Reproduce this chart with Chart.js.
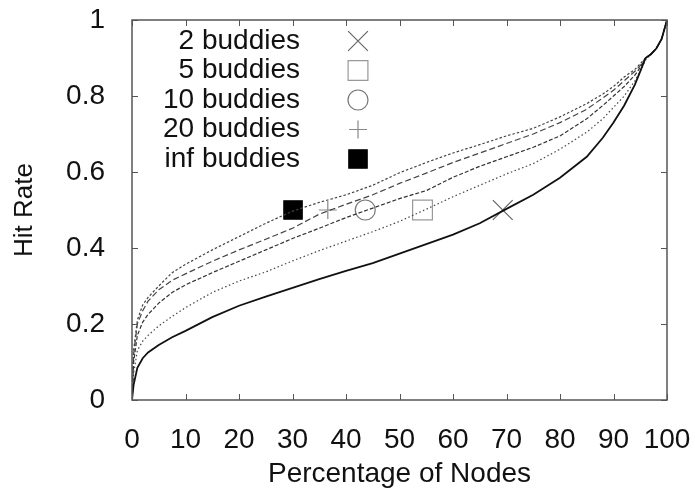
<!DOCTYPE html>
<html lang="en">
<head>
<meta charset="UTF-8" />
<title>Hit Rate vs Percentage of Nodes</title>
<script src="https://cdn.jsdelivr.net/npm/chart.js"></script>
<style>
  body { margin: 0; background: #fff; }
  canvas { display: block; }
</style>
</head>
<body>
<canvas id="grafHit" width="695" height="491"></canvas>
<script>
  // eixo x comum (percentual de nós)
  const xNos = [0, 0.3, 1, 2, 3, 5, 7.5, 10, 15, 20, 25, 30, 35, 40, 45, 50, 55, 60, 65, 70, 75, 80, 85, 88, 90, 92, 94, 95, 96, 97, 98, 99, 100];

  const hit2   = [0, 0.04, 0.085, 0.11, 0.125, 0.145, 0.165, 0.182, 0.218, 0.248, 0.272, 0.295, 0.318, 0.34, 0.36, 0.385, 0.41, 0.435, 0.465, 0.503, 0.54, 0.585, 0.64, 0.69, 0.73, 0.775, 0.83, 0.865, 0.9, 0.91, 0.925, 0.95, 1.0];
  const hit5   = [0, 0.07, 0.13, 0.155, 0.17, 0.195, 0.22, 0.243, 0.283, 0.313, 0.337, 0.366, 0.393, 0.418, 0.443, 0.47, 0.502, 0.535, 0.565, 0.595, 0.622, 0.66, 0.705, 0.74, 0.77, 0.8, 0.84, 0.865, 0.895, 0.91, 0.925, 0.95, 1.0];
  const hit10  = [0, 0.1, 0.17, 0.205, 0.225, 0.255, 0.283, 0.303, 0.335, 0.365, 0.395, 0.425, 0.452, 0.48, 0.505, 0.53, 0.551, 0.586, 0.615, 0.64, 0.665, 0.695, 0.74, 0.775, 0.8, 0.825, 0.855, 0.875, 0.9, 0.91, 0.925, 0.95, 1.0];
  const hit20  = [0, 0.12, 0.2, 0.235, 0.26, 0.29, 0.315, 0.332, 0.365, 0.395, 0.423, 0.452, 0.489, 0.515, 0.54, 0.57, 0.597, 0.625, 0.65, 0.675, 0.7, 0.73, 0.765, 0.795, 0.815, 0.84, 0.865, 0.88, 0.9, 0.91, 0.925, 0.95, 1.0];
  const hitInf = [0, 0.13, 0.21, 0.25, 0.27, 0.3, 0.335, 0.357, 0.395, 0.43, 0.465, 0.497, 0.52, 0.54, 0.565, 0.598, 0.625, 0.65, 0.672, 0.695, 0.715, 0.745, 0.78, 0.805, 0.825, 0.85, 0.87, 0.885, 0.9, 0.91, 0.925, 0.95, 1.0];

  const nomes  = ['2 buddies', '5 buddies', '10 buddies', '20 buddies', 'inf buddies'];
  const marcaX = [69.3, 54.3, 43.6, 36.6, 30.1];
  const marcaY = [0.5, 0.5, 0.5, 0.5, 0.5];

  const ticksX = [0, 10, 20, 30, 40, 50, 60, 70, 80, 90, 100];
  const ticksY = [0, 0.2, 0.4, 0.6, 0.8, 1];

  const series = [hit2, hit5, hit10, hit20, hitInf];
  const tracos = [[], [1.5, 2.5], [4, 2], [6, 3], [2.5, 2]];
  const larguras = [1.8, 1.2, 1.2, 1.2, 1.2];
  const corLinha = ['#111', '#444', '#333', '#444', '#444'];

  const estilos = ['crossRot', 'rect', 'circle', 'cross', 'rect'];
  const raios = [14, 14, 10, 9, 13];
  const corMarca = ['#666', '#999', '#777', '#888', '#000'];
  const preenche = ['rgba(0,0,0,0)', 'rgba(0,0,0,0)', 'rgba(0,0,0,0)', 'rgba(0,0,0,0)', '#000'];

  const fonte = '"Liberation Sans", Arial, sans-serif';

  const datasets = [];
  series.forEach((s, i) => {
    datasets.push({
      label: nomes[i],
      data: xNos.map((x, k) => ({ x: x, y: s[k] })),
      borderColor: corLinha[i],
      borderWidth: larguras[i],
      borderDash: tracos[i],
      pointRadius: 0,
      tension: 0,
      fill: false
    });
  });
  series.forEach((s, i) => {
    datasets.push({
      label: nomes[i] + ' marca',
      data: [{ x: marcaX[i], y: marcaY[i] }],
      showLine: false,
      pointStyle: estilos[i],
      pointRadius: raios[i],
      pointBorderColor: corMarca[i],
      pointBackgroundColor: preenche[i],
      pointBorderWidth: 1.2
    });
  });

  // sem padding extra das escalas: a área fica só com o layout.padding
  function zerarPadding(scale) {
    scale.paddingTop = 0; scale.paddingBottom = 0;
    scale.paddingLeft = 0; scale.paddingRight = 0;
  }

  // moldura com ticks para dentro (estilo gnuplot) e legenda
  const molduraPlugin = {
    id: 'moldura',
    afterDraw(chart) {
      const ctx = chart.ctx;
      const a = chart.chartArea;
      const sx = chart.scales.x, sy = chart.scales.y;
      ctx.save();
      ctx.strokeStyle = '#555';
      ctx.lineWidth = 1.5;
      ctx.strokeRect(a.left, a.top, a.right - a.left, a.bottom - a.top);
      ctx.lineWidth = 1;
      ctx.beginPath();
      ticksX.forEach(v => {
        const px = Math.round(sx.getPixelForValue(v)) + 0.5;
        ctx.moveTo(px, a.bottom); ctx.lineTo(px, a.bottom - 6);
        ctx.moveTo(px, a.top); ctx.lineTo(px, a.top + 6);
      });
      ticksY.forEach(v => {
        const py = Math.round(sy.getPixelForValue(v)) + 0.5;
        ctx.moveTo(a.left, py); ctx.lineTo(a.left + 6, py);
        ctx.moveTo(a.right, py); ctx.lineTo(a.right - 6, py);
      });
      ctx.stroke();

      // legenda
      ctx.font = '28px ' + fonte;
      ctx.textAlign = 'right';
      ctx.textBaseline = 'middle';
      nomes.forEach((n, i) => {
        const y = 41 + i * 29.5;
        ctx.fillStyle = '#111';
        ctx.fillText(n, 300, y);
        ctx.strokeStyle = corMarca[i];
        ctx.fillStyle = preenche[i];
        ctx.lineWidth = 1.2;
        Chart.helpers.drawPoint(ctx, { pointStyle: estilos[i], radius: raios[i], borderWidth: 1.2, rotation: 0 }, 358, y);
      });
      ctx.restore();
    }
  };

  new Chart(document.getElementById('grafHit').getContext('2d'), {
    type: 'line',
    data: { datasets: datasets },
    options: {
      responsive: false,
      animation: false,
      devicePixelRatio: 1,
      layout: { padding: { top: 20, right: 28, left: 0, bottom: 0 } },
      plugins: { legend: { display: false }, tooltip: { enabled: false } },
      scales: {
        x: {
          type: 'linear',
          min: 0, max: 100,
          grid: { display: false },
          border: { display: false },
          ticks: { stepSize: 10, color: '#111', padding: 15, font: { size: 28, family: fonte } },
          title: { display: true, text: 'Percentage of Nodes', color: '#111', padding: { top: 0, bottom: 0 }, font: { size: 28, family: fonte } },
          afterFit(scale) { scale.height = 91; zerarPadding(scale); }
        },
        y: {
          type: 'linear',
          min: 0, max: 1,
          grid: { display: false },
          border: { display: false },
          ticks: {
            stepSize: 0.2, color: '#111', padding: 19, font: { size: 28, family: fonte },
            callback: v => String(Math.round(v * 10) / 10)
          },
          title: { display: true, text: 'Hit Rate', color: '#111', padding: { top: 9, bottom: 0 }, font: { size: 26, family: fonte } },
          afterFit(scale) { scale.width = 132; zerarPadding(scale); }
        }
      }
    },
    plugins: [molduraPlugin]
  });
</script>
</body>
</html>
